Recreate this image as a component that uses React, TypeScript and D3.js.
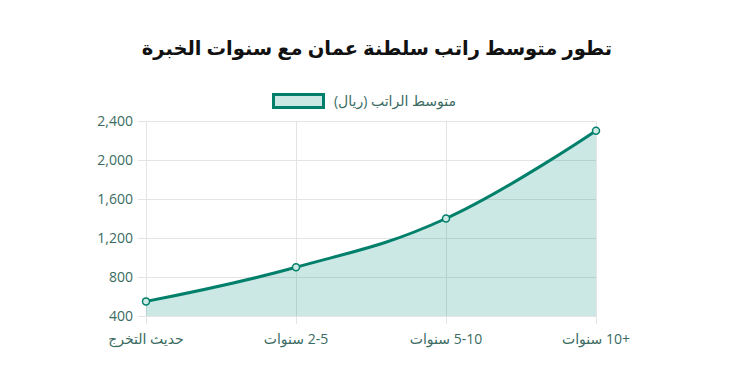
import React from "react";
import * as d3 from "d3";

const categories = ["حديث التخرج", "2-5 سنوات", "5-10 سنوات", "+10 سنوات"];
const salaries = [550, 900, 1400, 2300];
const yTicks = [400, 800, 1200, 1600, 2000, 2400];
const title = "تطور متوسط راتب سلطنة عمان مع سنوات الخبرة";
const seriesName = "متوسط الراتب (ريال)";

const W = 750;
const H = 375;
const left = 146;
const right = 596;
const top = 121;
const bottom = 316;
const LINE = "#00806b";
const FILL = "rgba(0,140,125,0.2)";
const TEXT = "#3a6b62";
const GRID = "#e4e4e4";
const FONT = "'Open Sans', 'Noto Sans', 'DejaVu Sans', sans-serif";

export default function App() {
  const x = d3.scalePoint<string>().domain(categories).range([left, right]);
  const y = d3.scaleLinear().domain([400, 2400]).range([bottom, top]);
  const curve = d3.curveCardinal.tension(-0.2);
  const line = d3
    .line<number>()
    .x((_, i) => x(categories[i]) as number)
    .y((d) => y(d))
    .curve(curve);
  const area = d3
    .area<number>()
    .x((_, i) => x(categories[i]) as number)
    .y0(bottom)
    .y1((d) => y(d))
    .curve(curve);

  return (
    <svg width={W} height={H} style={{ position: "absolute", left: 0, top: 0, background: "#fff" }}>
      <text x={377} y={55} textAnchor="middle" fontFamily={FONT} fontWeight="bold" fontSize={19.5} fill="#111" direction="rtl">
        {title}
      </text>
      {/* legend */}
      <rect x={273.5} y={94.5} width={50} height={13} fill={FILL} stroke={LINE} strokeWidth={3} />
      <text x={456} y={106} textAnchor="start" direction="rtl" fontFamily={FONT} fontSize={14} fill={TEXT}>
        {seriesName}
      </text>
      {/* grid */}
      {yTicks.map((t) => (
        <g key={t}>
          <line x1={left - 8} x2={right} y1={y(t) + 0.5} y2={y(t) + 0.5} stroke={GRID} />
          <text x={133} y={y(t) + 5} textAnchor="end" fontFamily={FONT} fontSize={14} fill={TEXT}>
            {d3.format(",")(t)}
          </text>
        </g>
      ))}
      {categories.map((c) => (
        <g key={c}>
          <line x1={(x(c) as number) + 0.5} x2={(x(c) as number) + 0.5} y1={top} y2={bottom + 8} stroke={GRID} />
          <text x={x(c) as number} y={344} textAnchor="middle" direction="rtl" fontFamily={FONT} fontSize={14} fill={TEXT}>
            {c}
          </text>
        </g>
      ))}
      <path d={area(salaries) || ""} fill={FILL} />
      <path d={line(salaries) || ""} fill="none" stroke={LINE} strokeWidth={3} />
      {salaries.map((v, i) => (
        <circle key={i} cx={x(categories[i]) as number} cy={y(v)} r={3.5} fill="#cfe9e5" stroke={LINE} strokeWidth={1.5} />
      ))}
    </svg>
  );
}
